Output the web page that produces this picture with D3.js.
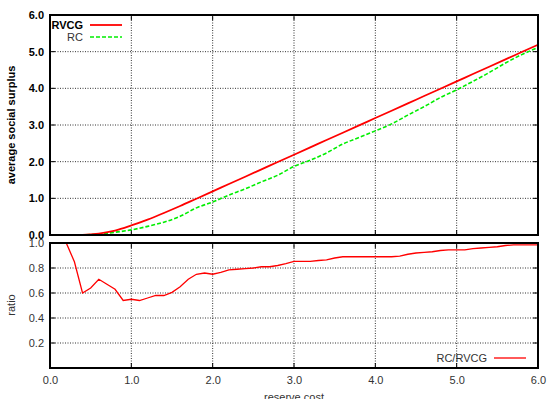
<!DOCTYPE html>
<html>
<head>
<meta charset="utf-8">
<script src="https://cdn.jsdelivr.net/npm/d3@7"></script>
<style>
  body { margin: 0; background: #fff; }
  svg { font-family: "Liberation Sans", Arial, sans-serif; }
</style>
</head>
<body>
<svg id="chart" width="547" height="399"></svg>
<script>
// top panel: average social surplus vs reserve cost
const costs = [0, 0.2, 0.4, 0.6, 0.8, 1.0, 1.2, 1.4, 1.6, 1.8, 2.0, 2.2, 2.4, 2.6, 2.8, 3.0,
  3.2, 3.4, 3.6, 3.8, 4.0, 4.2, 4.4, 4.6, 4.8, 5.0, 5.2, 5.4, 5.6, 5.8, 6.0];
const rvcg = [0, 0, 0.005, 0.04, 0.12, 0.26, 0.42, 0.6, 0.79, 0.99, 1.19, 1.39, 1.59, 1.79, 1.99, 2.19,
  2.39, 2.59, 2.79, 2.99, 3.19, 3.39, 3.59, 3.79, 3.99, 4.19, 4.39, 4.59, 4.79, 4.99, 5.19];
const rc = [0, 0, 0.003, 0.028, 0.075, 0.14, 0.235, 0.35, 0.51, 0.74, 0.9, 1.09, 1.26, 1.45, 1.63, 1.87,
  2.04, 2.24, 2.48, 2.66, 2.84, 3.03, 3.27, 3.5, 3.75, 3.96, 4.19, 4.43, 4.69, 4.92, 5.11];

// bottom panel: ratio RC/RVCG, one point per 0.1
const ratioCosts = d3.range(0, 61).map(i => i / 10);
const ratio = [1.0, 1.0, 1.0, 0.85, 0.6, 0.64, 0.71, 0.67, 0.63, 0.54,
  0.55, 0.54, 0.56, 0.58, 0.58, 0.605, 0.65, 0.71, 0.75, 0.76,
  0.75, 0.765, 0.785, 0.79, 0.795, 0.80, 0.81, 0.81, 0.82, 0.835,
  0.853, 0.853, 0.853, 0.86, 0.865, 0.88, 0.89, 0.89, 0.89, 0.89,
  0.89, 0.89, 0.89, 0.895, 0.91, 0.92, 0.925, 0.93, 0.94, 0.945,
  0.945, 0.945, 0.955, 0.96, 0.965, 0.97, 0.98, 0.985, 0.985, 0.985, 0.985];

const xTicks = [0, 1, 2, 3, 4, 5, 6];
const topTicks = [0, 1, 2, 3, 4, 5, 6];
const bottomTicks = [0.2, 0.4, 0.6, 0.8, 1.0];

const svg = d3.select('#chart');
const RED = "#ff0000", GREEN = "#00ee00";

const xScale = d3.scaleLinear().domain([0, 6]).range([50, 538]);
const yTop = d3.scaleLinear().domain([0, 6]).range([235, 15]);
const yBot = d3.scaleLinear().domain([0, 1]).range([368, 243]);

function grid (yScale, yVals, y0, y1) {
  const g = svg.append('g').attr('class', 'grid');
  g.selectAll('line.gx').data(xTicks.slice(1, -1))
    .enter().append('line')
    .attr('x1', d => xScale(d)).attr('x2', d => xScale(d))
    .attr('y1', y0).attr('y2', y1)
    .attr('stroke', '#333').attr('stroke-width', 1).attr('stroke-dasharray', '1,1.5');
  g.selectAll('line.gy').data(yVals)
    .enter().append('line')
    .attr('x1', 50).attr('x2', 538)
    .attr('y1', d => yScale(d)).attr('y2', d => yScale(d))
    .attr('stroke', '#333').attr('stroke-width', 1).attr('stroke-dasharray', '1,1.5');
}

grid(yTop, topTicks.slice(1, -1), 15, 235);
grid(yBot, bottomTicks.slice(0, -1), 243, 368);

// axes
const topLeft = d3.axisLeft(yTop).tickValues(topTicks).tickFormat(d3.format('.1f')).tickSize(0).tickPadding(6);
svg.append('g').attr('transform', 'translate(50,0)').call(topLeft)
  .call(g => g.select('.domain').remove())
  .selectAll('text').attr('font-size', 11).attr('font-weight', 'bold').attr('fill', '#000');

const botLeft = d3.axisLeft(yBot).tickValues(bottomTicks).tickFormat(d3.format('.1f')).tickSize(0).tickPadding(6);
svg.append('g').attr('transform', 'translate(50,0)').call(botLeft)
  .call(g => g.select('.domain').remove())
  .selectAll('text').attr('font-size', 11).attr('fill', '#333');

const botX = d3.axisBottom(xScale).tickValues(xTicks).tickFormat(d3.format('.1f')).tickSize(0).tickPadding(8);
svg.append('g').attr('transform', 'translate(0,368)').call(botX)
  .call(g => g.select('.domain').remove())
  .selectAll('text').attr('font-size', 11).attr('fill', '#333');

// tick marks on frame edges
[[yTop, topTicks, 15, 235], [yBot, bottomTicks, 243, 368]].forEach(([ys, yv, y0, y1]) => {
  svg.append('g').selectAll('line').data(xTicks)
    .enter().append('line')
    .attr('x1', d => xScale(d)).attr('x2', d => xScale(d))
    .attr('y1', y1).attr('y2', y1 - 5).attr('stroke', '#000');
  svg.append('g').selectAll('line').data(xTicks)
    .enter().append('line')
    .attr('x1', d => xScale(d)).attr('x2', d => xScale(d))
    .attr('y1', y0).attr('y2', y0 + 5).attr('stroke', '#000');
  svg.append('g').selectAll('line').data(yv)
    .enter().append('line')
    .attr('x1', 50).attr('x2', 55)
    .attr('y1', d => ys(d)).attr('y2', d => ys(d)).attr('stroke', '#000');
  svg.append('g').selectAll('line').data(yv)
    .enter().append('line')
    .attr('x1', 538).attr('x2', 533)
    .attr('y1', d => ys(d)).attr('y2', d => ys(d)).attr('stroke', '#000');
});

// top lines
const surplusLine = d3.line().x((d, i) => xScale(costs[i])).y(d => yTop(d)).curve(d3.curveMonotoneX);
svg.append('path').attr('d', surplusLine(rc))
  .attr('fill', 'none').attr('stroke', GREEN).attr('stroke-width', 1.6).attr('stroke-dasharray', '4,2');
svg.append('path').attr('d', surplusLine(rvcg))
  .attr('fill', 'none').attr('stroke', RED).attr('stroke-width', 1.8);

// ratio line
const ratioLine = d3.line().x((d, i) => xScale(ratioCosts[i])).y(d => yBot(d));
svg.append('path').attr('d', ratioLine(ratio))
  .attr('fill', 'none').attr('stroke', RED).attr('stroke-width', 1.3);

// frames
svg.append('rect').attr('x', 50).attr('y', 15).attr('width', 488).attr('height', 220)
  .attr('fill', 'none').attr('stroke', '#000').attr('stroke-width', 2);
svg.append('rect').attr('x', 50).attr('y', 243).attr('width', 488).attr('height', 125)
  .attr('fill', 'none').attr('stroke', '#000').attr('stroke-width', 2);

// legends
svg.append('text').attr('x', 83).attr('y', 29).attr('text-anchor', 'end')
  .attr('font-size', 11).attr('font-weight', 'bold').text('RVCG');
svg.append('line').attr('x1', 90).attr('x2', 122).attr('y1', 25).attr('y2', 25)
  .attr('stroke', RED).attr('stroke-width', 1.8);
svg.append('text').attr('x', 83).attr('y', 41).attr('text-anchor', 'end')
  .attr('font-size', 11).attr('fill', '#333').text('RC');
svg.append('line').attr('x1', 90).attr('x2', 122).attr('y1', 37).attr('y2', 37)
  .attr('stroke', GREEN).attr('stroke-width', 1.6).attr('stroke-dasharray', '4,2');

svg.append('text').attr('x', 487).attr('y', 362).attr('text-anchor', 'end')
  .attr('font-size', 11).attr('fill', '#333').text('RC/RVCG');
svg.append('line').attr('x1', 494).attr('x2', 526).attr('y1', 358).attr('y2', 358)
  .attr('stroke', RED).attr('stroke-width', 1.3);

// axis titles
svg.append('text').attr('transform', 'translate(15,125) rotate(-90)').attr('text-anchor', 'middle')
  .attr('font-size', 11).attr('font-weight', 'bold').text('average social surplus');
svg.append('text').attr('transform', 'translate(15,305) rotate(-90)').attr('text-anchor', 'middle')
  .attr('font-size', 11).attr('fill', '#333').text('ratio');
svg.append('text').attr('x', 294).attr('y', 401).attr('text-anchor', 'middle')
  .attr('font-size', 11).attr('fill', '#333').text('reserve cost');
</script>
</body>
</html>
